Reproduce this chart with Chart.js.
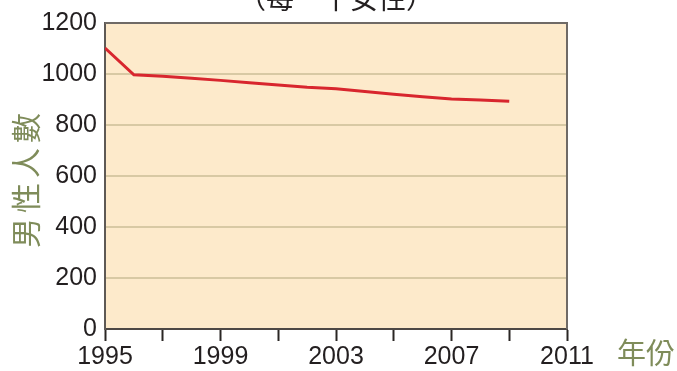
<!DOCTYPE html>
<html>
<head>
<meta charset="utf-8">
<script src="https://cdn.jsdelivr.net/npm/chart.js@4/dist/chart.umd.min.js"></script>
<style>
  html, body { margin: 0; padding: 0; background: #ffffff; }
  #wrap { width: 677px; height: 371px; position: relative; }
</style>
</head>
<body>
<div id="wrap"><canvas id="c" width="677" height="371"></canvas></div>
<script>
// Males per thousand females, by year
const years = [1995, 1996, 1997, 1998, 1999, 2000, 2001, 2002, 2003, 2004, 2005, 2006, 2007, 2008, 2009];
const males = [1102, 997, 991, 983, 975, 966, 957, 948, 942, 931, 921, 911, 902, 898, 893];
const yTicks = [0, 200, 400, 600, 800, 1000, 1200];
const xLabelYears = [1995, 1999, 2003, 2007, 2011];

const chartTitle = '（每一千女性）';
const yTitle = '男性人數';
const xTitle = '年份';

const NUM_FONT = '"Liberation Sans", Arial, sans-serif';
const CJK_FONT = '"Noto Sans CJK TC", "Noto Sans CJK SC", sans-serif';
const TEXT = '#231f20';
const OLIVE = '#7f8c5a';

// Peach plot background, outer frame and the text around the plot
const decor = {
  id: 'decor',
  beforeDatasetsDraw(chart) {
    const { ctx, chartArea: a } = chart;
    ctx.save();
    ctx.globalCompositeOperation = 'destination-over';
    ctx.fillStyle = '#fdeacb';
    ctx.fillRect(a.left, a.top, a.right - a.left, a.bottom - a.top);
    ctx.restore();
  },
  afterDraw(chart) {
    const { ctx, chartArea: a } = chart;
    ctx.save();
    ctx.strokeStyle = '#6f6a66';
    ctx.lineWidth = 2;
    ctx.beginPath();
    ctx.moveTo(a.left, a.top);
    ctx.lineTo(a.right, a.top);
    ctx.lineTo(a.right, a.bottom);
    ctx.stroke();

    ctx.fillStyle = TEXT;
    ctx.font = '28px ' + CJK_FONT;
    ctx.textAlign = 'center';
    ctx.textBaseline = 'alphabetic';
    ctx.fillText(chartTitle, (a.left + a.right) / 2, 9);

    ctx.fillStyle = OLIVE;
    ctx.font = '29px ' + CJK_FONT;
    ctx.textAlign = 'left';
    ctx.textBaseline = 'middle';
    ctx.fillText(xTitle, 617, 353);

    ctx.translate(26, 181);
    ctx.rotate(-Math.PI / 2);
    ctx.textAlign = 'center';
    ctx.letterSpacing = '5px';
    ctx.font = '30px ' + CJK_FONT;
    ctx.fillText(yTitle, 3, 0);
    ctx.restore();
  }
};

new Chart(document.getElementById('c'), {
  type: 'line',
  data: {
    datasets: [{
      data: years.map((y, i) => ({ x: y, y: males[i] })),
      borderColor: '#d8262e',
      borderWidth: 3,
      pointRadius: 0,
      tension: 0,
      fill: false
    }]
  },
  options: {
    responsive: false,
    animation: false,
    layout: { padding: { top: 20, right: 110, left: 0, bottom: 0 } },
    plugins: { legend: { display: false }, tooltip: { enabled: false } },
    scales: {
      x: {
        type: 'linear',
        min: 1995,
        max: 2011,
        afterFit(s) { s.height = 42; },
        ticks: {
          stepSize: 2,
          autoSkip: false,
          maxRotation: 0,
          padding: 1,
          color: TEXT,
          font: { family: NUM_FONT, size: 25 },
          callback: v => xLabelYears.includes(v) ? String(v) : ''
        },
        grid: {
          drawOnChartArea: false,
          drawTicks: true,
          tickLength: 12,
          tickWidth: 2,
          tickColor: '#2a2624'
        },
        border: { color: '#4d4845', width: 2 }
      },
      y: {
        min: 0,
        max: 1200,
        afterFit(s) { s.width = 105; },
        afterBuildTicks(s) { s.ticks = yTicks.map(v => ({ value: v })); },
        ticks: {
          padding: 8,
          color: TEXT,
          font: { family: NUM_FONT, size: 25 },
          callback: v => String(v)
        },
        grid: {
          drawTicks: false,
          color: ctx => ctx.tick && ctx.tick.value === 0 ? 'rgba(0,0,0,0)' : '#d8c9a4',
          lineWidth: 2
        },
        border: { color: '#5e5955', width: 2 }
      }
    }
  },
  plugins: [decor]
});
</script>
</body>
</html>
